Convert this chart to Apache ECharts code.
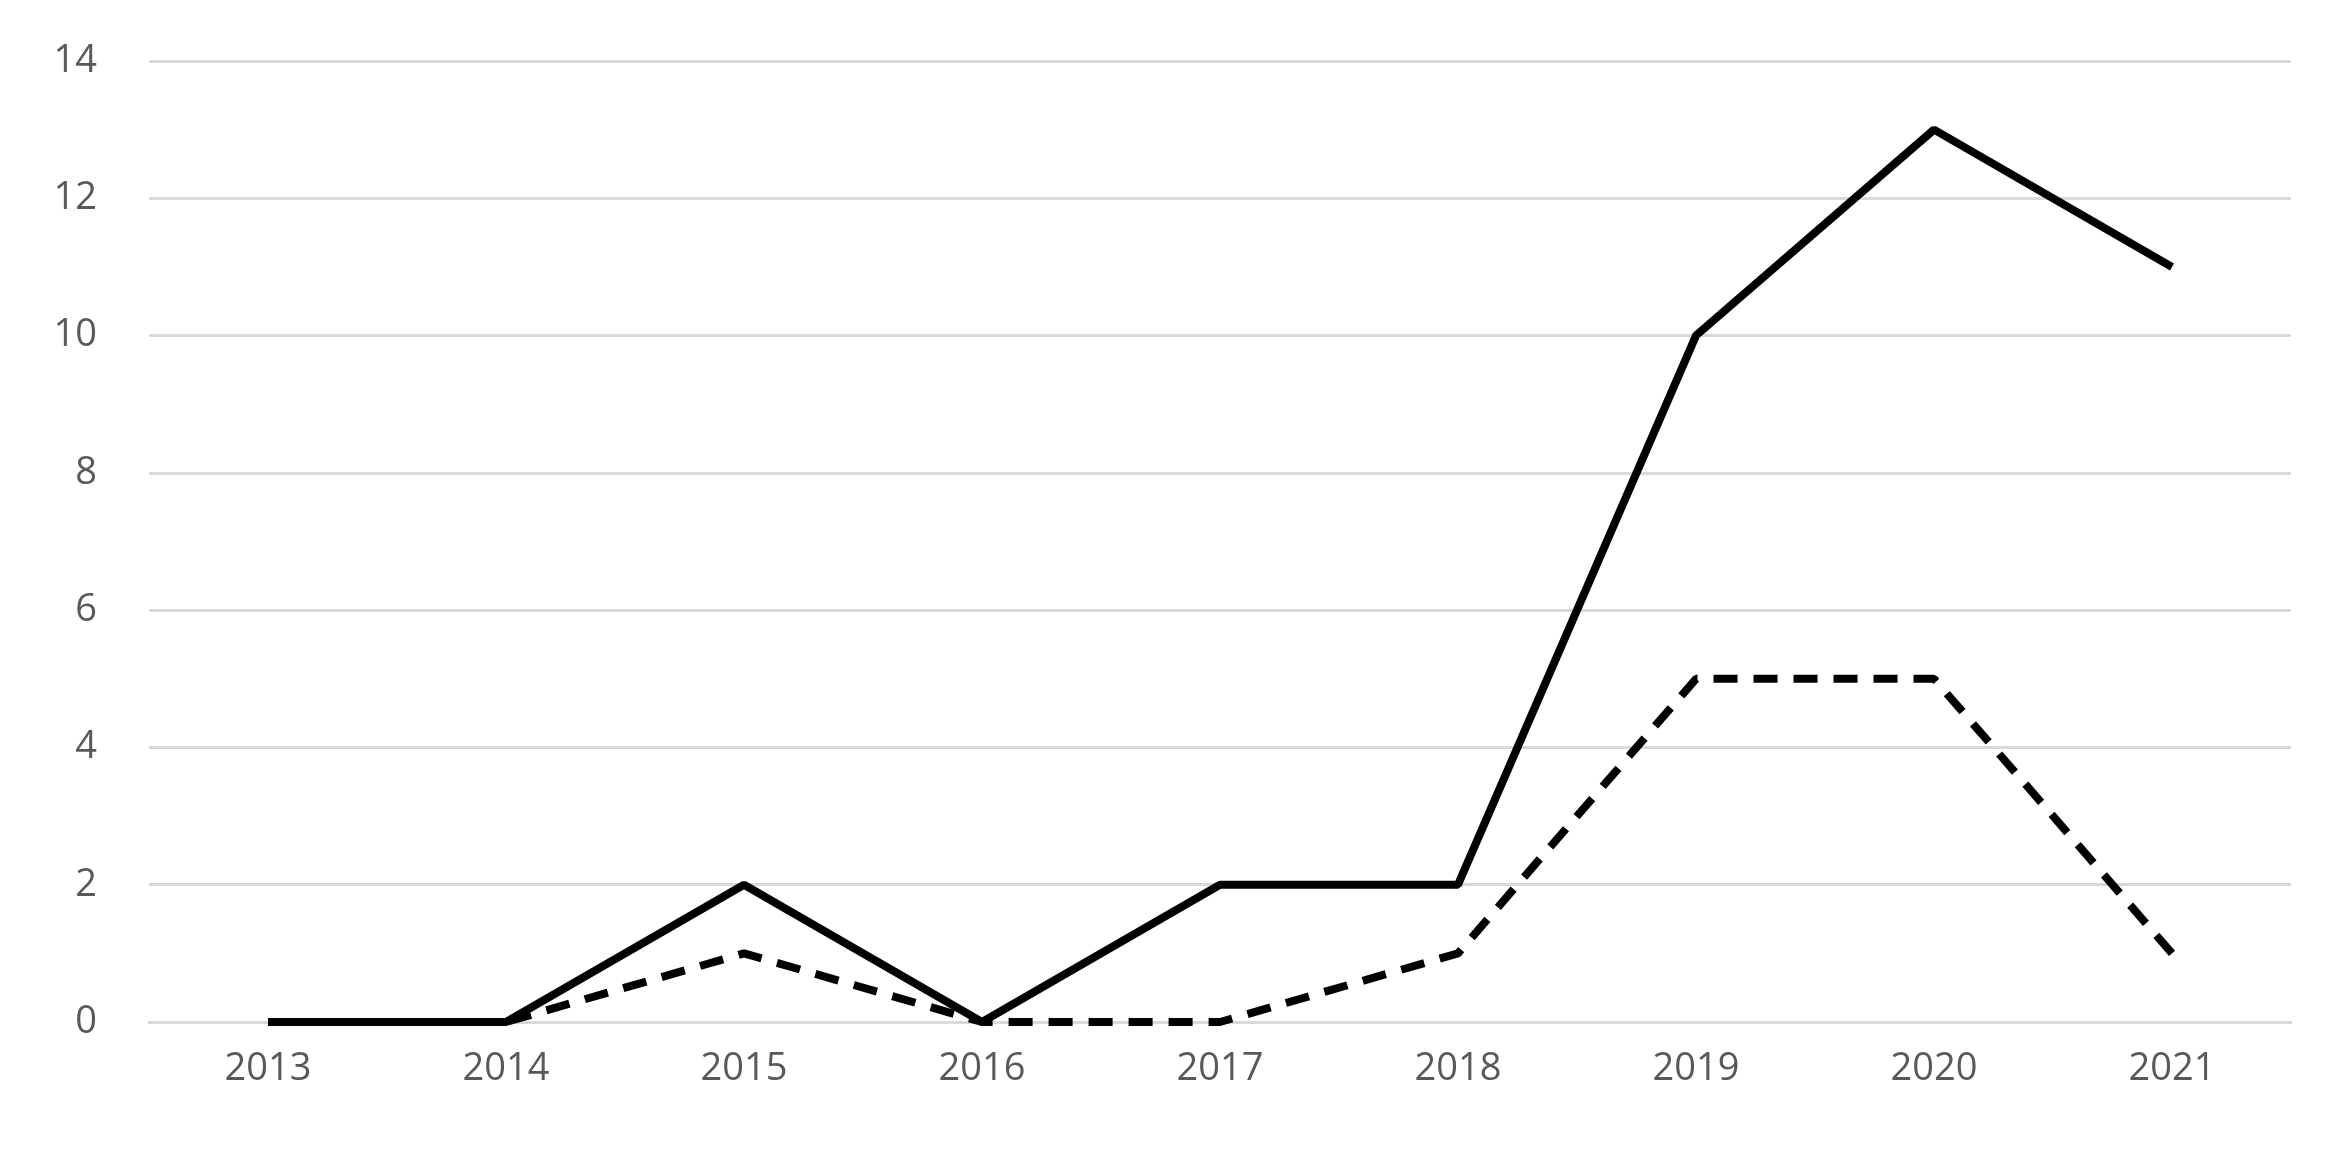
<!DOCTYPE html>
<html>
<head>
<meta charset="utf-8">
<script src="https://cdn.jsdelivr.net/npm/echarts@6/dist/echarts.min.js"></script>
<style>html,body{margin:0;padding:0;background:#fff}#chart{width:2333px;height:1155px}</style>
</head>
<body>
<div id="chart"></div>
<script>
const years = ['2013', '2014', '2015', '2016', '2017', '2018', '2019', '2020', '2021'];
const solidValues = [0, 0, 2, 0, 2, 2, 10, 13, 11];
const dashedValues = [0, 0, 1, 0, 0, 1, 5, 5, 1];

const myChart = echarts.init(document.getElementById('chart'));

const labelStyle = {color: '#595959', fontSize: 38, fontFamily: 'Open Sans'};

myChart.setOption({
  animation: false,
  grid: {left: 149, right: 42, top: 61, bottom: 133},
  xAxis: {
    type: 'category',
    data: years,
    boundaryGap: true,
    axisLine: {lineStyle: {color: '#d9d9d9', width: 3}},
    axisTick: {show: false},
    axisLabel: Object.assign({margin: 28}, labelStyle)
  },
  yAxis: {
    type: 'value',
    min: 0,
    max: 14,
    interval: 2,
    axisLine: {show: false},
    axisTick: {show: false},
    axisLabel: Object.assign({margin: 52}, labelStyle),
    splitLine: {lineStyle: {color: '#d9d9d9', width: 3}}
  },
  series: [
    {
      type: 'line',
      data: dashedValues,
      symbol: 'none',
      lineStyle: {color: '#000', width: 8, type: [24, 16]}
    },
    {
      type: 'line',
      data: solidValues,
      symbol: 'none',
      lineStyle: {color: '#000', width: 8}
    }
  ]
});
</script>
</body>
</html>
